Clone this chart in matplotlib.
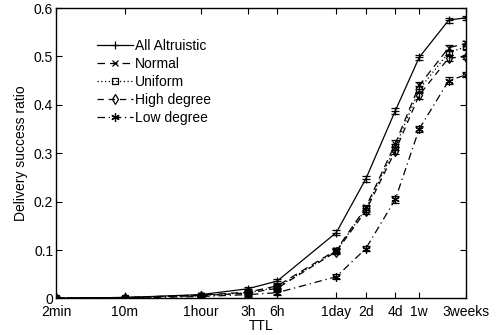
import matplotlib
matplotlib.use("Agg")
import matplotlib.pyplot as plt
from matplotlib.lines import Line2D
import numpy as np

plt.rcParams['font.family'] = ['Liberation Sans', 'DejaVu Sans']

# TTL in minutes
ttl_minutes = [2, 10, 60, 180, 360, 1440, 2880, 5760, 10080, 20160, 30240]
tick_minutes = [2, 10, 60, 180, 360, 1440, 2880, 5760, 10080, 30240]
tick_labels = ['2min', '10m', '1hour', '3h', '6h', '1day', '2d', '4d', '1w', '3weeks']

all_altruistic = [0.001, 0.002, 0.008, 0.020, 0.036, 0.136, 0.247, 0.388, 0.498, 0.575, 0.580]
normal         = [0.001, 0.002, 0.007, 0.013, 0.026, 0.100, 0.188, 0.320, 0.440, 0.518, 0.527]
uniform        = [0.001, 0.002, 0.006, 0.012, 0.023, 0.098, 0.185, 0.313, 0.432, 0.508, 0.520]
high_degree    = [0.001, 0.002, 0.006, 0.011, 0.021, 0.097, 0.181, 0.305, 0.420, 0.497, 0.499]
low_degree     = [0.001, 0.001, 0.004, 0.008, 0.012, 0.045, 0.103, 0.205, 0.350, 0.450, 0.462]

err_all    = [0.001, 0.001, 0.002, 0.003, 0.004, 0.005, 0.006, 0.006, 0.006, 0.005, 0.004]
err_normal = [0.001, 0.001, 0.002, 0.003, 0.004, 0.005, 0.006, 0.007, 0.007, 0.006, 0.005]
err_unif   = [0.001, 0.001, 0.002, 0.003, 0.004, 0.005, 0.006, 0.007, 0.007, 0.006, 0.005]
err_high   = [0.001, 0.001, 0.002, 0.003, 0.004, 0.005, 0.006, 0.007, 0.007, 0.006, 0.005]
err_low    = [0.001, 0.001, 0.002, 0.003, 0.004, 0.005, 0.005, 0.007, 0.007, 0.007, 0.005]

series = [
    ('All Altruistic', all_altruistic, err_all, '-', '+', 6),
    ('Normal', normal, err_normal, (0, (6, 4)), 'x', 4.5),
    ('Uniform', uniform, err_unif, (0, (1, 2)), 's', 5),
    ('High degree', high_degree, err_high, (0, (5, 4)), 'd', 5.5),
    ('Low degree', low_degree, err_low, (0, (6, 3, 1, 3)), (6, 2, 0), 6),
]

fig = plt.figure(figsize=(4.98, 3.35), dpi=100)
ax = fig.add_axes([0.1124, 0.109, 0.8233, 0.867])

handles = []
for name, vals, err, ls, mk, ms in series:
    mfc = 'none' if mk in ('s', 'd') else 'black'
    ax.errorbar(ttl_minutes, vals, yerr=err, color='black', linestyle=ls,
                linewidth=0.9, marker=mk, markersize=ms, markerfacecolor=mfc,
                markeredgewidth=0.9, elinewidth=0.9, capsize=3, capthick=0.9)
    handles.append(Line2D([], [], color='black', linestyle=ls, linewidth=0.9,
                          marker=mk, markersize=ms, markerfacecolor=mfc,
                          markeredgewidth=0.9, label=name))

ax.set_xscale('log')
ax.set_xlim(2, 30240)
ax.set_ylim(0, 0.6)
ax.set_xticks(tick_minutes)
ax.set_xticklabels(tick_labels)
ax.minorticks_off()
ax.set_yticks([0, 0.1, 0.2, 0.3, 0.4, 0.5, 0.6])
ax.set_yticklabels(['0', '0.1', '0.2', '0.3', '0.4', '0.5', '0.6'])
ax.tick_params(direction='in', top=True, right=True, length=4, labelsize=10)
ax.tick_params(axis='x', pad=5)
ax.tick_params(axis='y', pad=2)
ax.set_xlabel('TTL', fontsize=10, labelpad=0)
ax.set_ylabel('Delivery success ratio', fontsize=10, labelpad=4)
for s in ax.spines.values():
    s.set_linewidth(1.0)

ax.legend(handles=handles, loc='upper left', bbox_to_anchor=(0.1, 0.893),
          frameon=False, fontsize=10, handlelength=2.6, handletextpad=0.15,
          labelspacing=0.28, borderpad=0, borderaxespad=0)

fig.savefig('out.png', dpi=100)
